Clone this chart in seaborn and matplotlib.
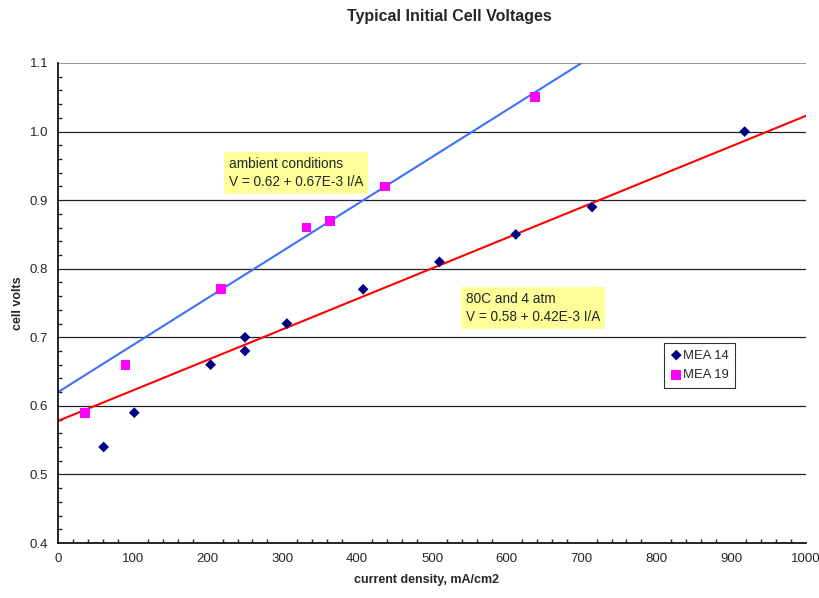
import matplotlib
matplotlib.use("Agg")
import matplotlib.pyplot as plt
from matplotlib.ticker import MultipleLocator, FormatStrFormatter
import pandas as pd
import seaborn as sns

# MEA 14 (80C, 4 atm)
mea14_current = [61, 102, 204, 250, 250, 306, 408, 510, 612, 714, 918]
mea14_volts = [0.54, 0.59, 0.66, 0.70, 0.68, 0.72, 0.77, 0.81, 0.85, 0.89, 1.00]

# MEA 19 (ambient)
mea19_current = [36, 90, 218, 332, 364, 437, 638]
mea19_volts = [0.59, 0.66, 0.77, 0.86, 0.87, 0.92, 1.05]

# trend lines as drawn (end points)
ambient_line_x = [0, 700]
ambient_line_y = [0.62, 1.10]
hot_line_x = [0, 1000]
hot_line_y = [0.578, 1.023]

sns.set_style("white")
plt.rcParams['font.family'] = ['Liberation Sans', 'DejaVu Sans']

df14 = pd.DataFrame({'I': mea14_current, 'V': mea14_volts})
df19 = pd.DataFrame({'I': mea19_current, 'V': mea19_volts})

fig = plt.figure(figsize=(8.2, 5.98), dpi=100)
ax = fig.add_axes([58 / 820, 1 - 543 / 598, 748 / 820, 480 / 598])

# horizontal gridlines
for y in [0.5, 0.6, 0.7, 0.8, 0.9, 1.0]:
    ax.axhline(y, color='#222222', lw=0.9, zorder=0)
ax.axhline(1.1, color='#888888', lw=1.2, zorder=0)

sns.lineplot(x=ambient_line_x, y=ambient_line_y, color='#3f6fff', lw=1.5, ax=ax, zorder=2)
sns.lineplot(x=hot_line_x, y=hot_line_y, color='#ff0000', lw=1.5, ax=ax, zorder=2)

sns.scatterplot(data=df14, x='I', y='V', marker='D', s=30, color='#000080',
                edgecolor='none', label='MEA 14', ax=ax, zorder=3)
sns.scatterplot(data=df19, x='I', y='V', marker='s', s=48, color='#ff00ff',
                edgecolor='none', label='MEA 19', ax=ax, zorder=3)

ax.set_xlim(0, 1000)
ax.set_ylim(0.4, 1.1)
ax.xaxis.set_major_locator(MultipleLocator(100))
ax.xaxis.set_minor_locator(MultipleLocator(20))
ax.yaxis.set_major_locator(MultipleLocator(0.1))
ax.yaxis.set_minor_locator(MultipleLocator(0.02))
ax.yaxis.set_major_formatter(FormatStrFormatter('%.1f'))
ax.tick_params(axis='both', which='major', direction='inout', length=6, width=1,
               labelsize=9.5, color='black', pad=4)
ax.tick_params(axis='x', which='minor', direction='in', length=3, width=1, bottom=True)
ax.tick_params(axis='y', which='minor', direction='in', length=3, width=1, left=True)

for s in ['top', 'right']:
    ax.spines[s].set_visible(False)
for s in ['left', 'bottom']:
    ax.spines[s].set_color('black')
    ax.spines[s].set_linewidth(1.2)

ax.set_xlabel('current density, mA/cm2', fontsize=9, fontweight='bold')
ax.xaxis.set_label_coords(0.492, -0.065)
ax.set_ylabel('cell volts', fontsize=9, fontweight='bold')
ax.yaxis.set_label_coords(-0.045, 0.5)
fig.suptitle('Typical Initial Cell Voltages', x=0.548, y=0.985, fontsize=11.5,
             fontweight='bold', va='top')

box = dict(boxstyle='square,pad=0.35', facecolor='#ffff99', edgecolor='none')
ax.text(228, 0.916, 'ambient conditions\nV = 0.62 + 0.67E-3 I/A', fontsize=9.8,
        bbox=box, linespacing=1.4, va='bottom', ha='left', zorder=4)
ax.text(545, 0.719, '80C and 4 atm\nV = 0.58 + 0.42E-3 I/A', fontsize=9.8,
        bbox=box, linespacing=1.4, va='bottom', ha='left', zorder=4)

leg = ax.legend(loc='upper left', bbox_to_anchor=(0.81, 0.417), frameon=True,
                fontsize=9.4, handletextpad=0.05, handlelength=0.9, borderpad=0.5,
                labelspacing=0.6, fancybox=False, borderaxespad=0)
leg.get_frame().set_edgecolor('black')
leg.get_frame().set_linewidth(0.8)

fig.savefig('out.png', dpi=100)
